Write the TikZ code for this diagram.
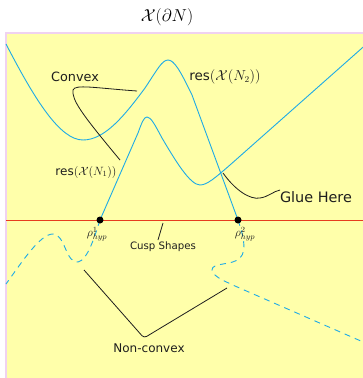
\documentclass[tikz,border=0pt]{standalone}
\usepackage[no-math]{fontspec}
\newfontfamily\lab{DejaVu Sans}
\definecolor{bg}{RGB}{255,255,170}
\definecolor{edge}{RGB}{240,210,240}
\definecolor{curve}{RGB}{30,170,230}
\definecolor{redline}{RGB}{230,60,30}
\definecolor{ink}{RGB}{30,30,30}
\tikzset{
  bluecurve/.style={draw=curve, line width=0.9pt},
  bluedash/.style={draw=curve, line width=0.9pt, dash pattern=on 6pt off 5pt},
  pointer/.style={draw=ink, line width=0.8pt},
  lbl/.style={text=ink, inner sep=0pt, font=\lab},
  dot/.style={circle, fill=black, inner sep=0pt, minimum size=7pt},
}
\begin{document}
\begin{tikzpicture}[x=1pt,y=-1pt]
\useasboundingbox (0,0) rectangle (363,378);
\begin{scope}
\clip (0,0) rectangle (363,378);
\fill[bg] (6,33) rectangle (370,385);
\draw[edge, line width=1.2pt] (6,385) -- (6,33) -- (370,33);
\end{scope}
\node[inner sep=0pt] (title) at (167,17) {\fontsize{17.28}{20}\selectfont $\mathcal{X}(\partial N)$};
% red line
\coordinate (rl) at (6,220);
\coordinate (rr) at (363,220);
\draw[redline, line width=1pt] (rl) -- (rr);
% N2 curve
\draw[bluecurve] (6,44) .. controls (35,100) and (60,140) .. (83,140)
  .. controls (105,140) and (125,115) .. (145,88)
  .. controls (157,70) and (162,60) .. (168,60)
  .. controls (174,60) and (180,70) .. (192,95) -- (238,220);
\draw[bluedash] (238,220) .. controls (242,232) and (248,250) .. (240,258)
  .. controls (232,266) and (212,262) .. (212,270)
  .. controls (213,276) and (222,280) .. (235,286) -- (370,345);
% N1 curve
\draw[bluecurve] (100,220) -- (138,133) .. controls (142,122) and (144,117) .. (147,117)
  .. controls (151,117) and (155,125) .. (162,138)
  .. controls (175,160) and (190,185) .. (200,185)
  .. controls (207,185) and (215,178) .. (230,165) -- (370,41);
\draw[bluedash] (100,220) .. controls (95,235) and (88,260) .. (78,262)
  .. controls (66,264) and (65,234) .. (53,234)
  .. controls (40,234) and (22,262) .. (6,284);
% points
\node[dot] (p1) at (100,220) {};
\node[dot] (p2) at (238,220) {};
\node[lbl, anchor=north] (p1l) at (97,227) {\fontsize{12}{14}\selectfont $\rho^1_{hyp}$};
\node[lbl, anchor=north] (p2l) at (245,227) {\fontsize{12}{14}\selectfont $\rho^2_{hyp}$};
% labels
\node[lbl] (convex) at (75,77) {\fontsize{12.8}{15}\selectfont Convex};
\node[lbl] (resN2) at (225,77) {\fontsize{13.5}{16}\selectfont res$(\mathcal{X}(N_2))$};
\node[lbl] (resN1) at (86,172) {\fontsize{12}{14}\selectfont res$(\mathcal{X}(N_1))$};
\node[lbl] (glue) at (316,197) {\fontsize{14.4}{17}\selectfont Glue Here};
\node[lbl] (cusp) at (163,247) {\fontsize{10.2}{12}\selectfont Cusp Shapes};
\node[lbl] (nonconvex) at (149,348) {\fontsize{12}{14}\selectfont Non-convex};
% pointers
\coordinate (cva) at (137,91);
\coordinate (cvb) at (120,160);
\draw[pointer] (cva) .. controls (95,88) and (75,84) .. (73,90)
  .. controls (72,100) and (80,112) .. (cvb);
\coordinate (gla) at (223,173);
\coordinate (glb) at (280,190);
\draw[pointer] (gla) .. controls (235,190) and (250,200) .. (260,198)
  .. controls (268,197) and (274,191) .. (glb);
\coordinate (csa) at (163,223);
\coordinate (csb) at (158,240);
\draw[pointer] (csa) -- (csb);
\coordinate (nca) at (84,270);
\coordinate (ncm) at (144,338);
\coordinate (ncb) at (227,288);
\draw[pointer, rounded corners=3pt] (nca) -- (ncm) -- (ncb);
\end{tikzpicture}
\end{document}
